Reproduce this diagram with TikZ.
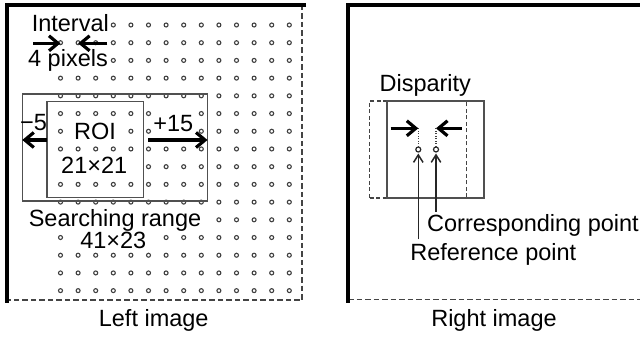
\documentclass[tikz,border=0pt]{standalone}
\usepackage{fontspec}
\setmainfont{Liberation Sans}
\usetikzlibrary{arrows.meta}
\newcommand\hidedot[2]{\expandafter\def\csname hid#1-#2\endcsname{}}
\hidedot{0}{0}\hidedot{1}{0}\hidedot{2}{0}
\hidedot{0}{2}\hidedot{1}{2}\hidedot{2}{2}
\hidedot{6}{5}\hidedot{7}{5}
\hidedot{1}{6}\hidedot{2}{6}\hidedot{3}{6}\hidedot{6}{6}\hidedot{7}{6}
\hidedot{0}{8}\hidedot{1}{8}\hidedot{2}{8}\hidedot{3}{8}\hidedot{4}{8}
\hidedot{0}{11}\hidedot{1}{11}\hidedot{2}{11}\hidedot{3}{11}\hidedot{4}{11}\hidedot{5}{11}\hidedot{6}{11}\hidedot{7}{11}\hidedot{8}{11}
\hidedot{1}{12}\hidedot{2}{12}\hidedot{3}{12}\hidedot{4}{12}\hidedot{5}{12}
\definecolor{boxgray}{HTML}{505050}
\definecolor{dotgray}{HTML}{404040}
\definecolor{dashgray}{HTML}{444444}
\begin{document}
\begin{tikzpicture}[x=1pt,y=-1pt,
  lbl/.style={inner sep=0pt,anchor=base,font=\fontsize{23.5}{27}\selectfont},
  frame/.style={line width=3.6pt,black},
  framedash/.style={line width=1.6pt,dashgray,dash pattern=on 5.5pt off 3pt},
  rangebox/.style={draw=boxgray,line width=1.6pt,inner sep=0pt,outer sep=0pt,rectangle},
  dashbox/.style={draw=dashgray,line width=1.5pt,dash pattern=on 4pt off 2.5pt,inner sep=0pt,outer sep=0pt,rectangle},
  dotc/.style={draw=dotgray,line width=1.1pt},
  bigarrow/.style={line width=3.2pt,-{Straight Barb[length=9pt,width=15pt]}},
  uparrow/.style={line width=1.5pt,black!85,-{Straight Barb[length=7.5pt,width=9.5pt]}},
  dotline/.style={line width=1.4pt,black!75,dash pattern=on 1.2pt off 1.3pt},
  ptc/.style={circle,draw=black!85,line width=1.2pt,minimum size=5pt,inner sep=0pt,outer sep=0pt}]
\useasboundingbox (0,0) rectangle (640,339);
% ---- left image frame
\coordinate (LTL) at (7,5);
\coordinate (LTR) at (306,5);
\coordinate (LBL) at (7,303);
\coordinate (LDT) at (302,5);
\coordinate (LDB) at (302,300);
\coordinate (LDL) at (7,300);
\draw[framedash] (LDT) -- (LDB) -- (LDL);
\draw[frame] (LTR) -- (LTL) -- (LBL);
% ---- dot grid
\foreach \r in {0,...,15}{
  \foreach \c in {0,...,13}{
    \ifcsname hid\c-\r\endcsname\else
      \draw[dotc] (60.5+17.6*\c, 25+17.71*\r) circle (2.0);
    \fi
  }
}
% ---- interval arrows
\coordinate (ia1) at (33.3,43.3);
\coordinate (ia1t) at (60.5,43.3);
\coordinate (ia2) at (107.3,43.3);
\coordinate (ia2t) at (78.1,43.3);
\draw[bigarrow] (ia1) -- (ia1t);
\draw[bigarrow] (ia2) -- (ia2t);
\node[lbl] (interval) at (70.3,31.7) {Interval};
\node[lbl] (pixels) at (68,66.7) {4 pixels};
% ---- searching range and ROI
\node[rangebox,minimum width=185.2pt,minimum height=107pt] (srange) at (114.9,147.5) {};
\node[rangebox,minimum width=96.6pt,minimum height=96pt] (roi) at (95,149.7) {};
\coordinate (arow) at (0,140);
\draw[bigarrow] (roi.west |- arow) -- (srange.west |- arow);
\draw[bigarrow] ([xshift=5pt]roi.east |- arow) -- (srange.east |- arow);
\node[lbl] (roilbl) at (95,139.3) {ROI};
\node[lbl] (roisize) at (94.2,174) {21×21};
\node[lbl] (minus5) at (33.5,130.7) {−5};
\node[lbl] (plus15) at (173.3,131.7) {+15};
\node[lbl] (search) at (115,226.7) {Searching range};
\node[lbl] (searchsize) at (113.3,248.3) {41×23};
\node[lbl] (leftlbl) at (153.7,326.7) {Left image};
% ---- right image frame
\coordinate (RTL) at (348,5);
\coordinate (RTR) at (640,5);
\coordinate (RBL) at (348,303);
\coordinate (RDL) at (348,299.5);
\coordinate (RDR) at (640,299.5);
\draw[framedash] (RDL) -- (RDR);
\draw[frame] (RTR) -- (RTL) -- (RBL);
% ---- right image content
\node[dashbox,minimum width=96.8pt,minimum height=97pt] (shifted) at (417.9,149.5) {};
\node[rangebox,minimum width=97.3pt,minimum height=97pt] (match) at (435.35,149.5) {};
\node[lbl] (disp) at (425.3,91.7) {Disparity};
\coordinate (da1) at (390.7,128.3);
\coordinate (da1t) at (418.3,128.3);
\coordinate (da2) at (461.7,128.3);
\coordinate (da2t) at (436,128.3);
\draw[bigarrow] (da1) -- (da1t);
\draw[bigarrow] (da2) -- (da2t);
\node[ptc] (refpt) at (418.3,149.5) {};
\node[ptc] (corpt) at (436,149.5) {};
\draw[dotline] (da1t) -- (refpt.north);
\draw[dotline] (da2t) -- (corpt.north);
\coordinate (refend) at (418.3,239.3);
\coordinate (corend) at (436,211.7);
\draw[uparrow] (refend) -- ([yshift=-1.5pt]refpt.south);
\draw[uparrow] (corend) -- ([yshift=-1.5pt]corpt.south);
\node[lbl] (corlbl) at (533,231.7) {Corresponding point};
\node[lbl] (reflbl) at (493.3,261) {Reference point};
\node[lbl] (rightlbl) at (494,326.7) {Right image};
\end{tikzpicture}
\end{document}
